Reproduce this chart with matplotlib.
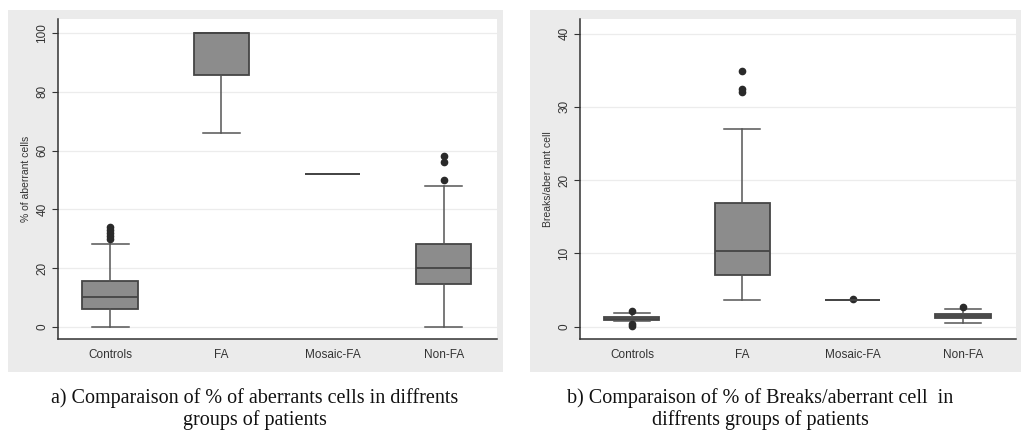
import matplotlib
matplotlib.use("Agg")
import matplotlib.pyplot as plt
from matplotlib.patches import Rectangle

plt.rcParams["font.family"] = ["Liberation Sans", "DejaVu Sans"]

groups = ["Controls", "FA", "Mosaic-FA", "Non-FA"]

# panel a: % of aberrant cells
a_whislo = [0, 66, 52, 0]
a_q1 = [6, 85.6, 52, 14.5]
a_med = [10.2, 100, 52, 19.9]
a_q3 = [15.6, 100, 52, 28.1]
a_whishi = [28.2, 100, 52, 48]
a_fliers = [[30, 31, 32, 33, 34], [], [], [50, 56.2, 58.3]]

# panel b: breaks / aberrant cell
b_whislo = [0.8, 3.7, 3.7, 0.55]
b_q1 = [0.95, 7.0, 3.7, 1.15]
b_med = [1.1, 10.4, 3.7, 1.4]
b_q3 = [1.35, 16.9, 3.7, 1.75]
b_whishi = [1.9, 27.0, 3.7, 2.4]
b_fliers = [[2.2, 0.3, 0.05], [34.9, 32.4, 32.1], [3.75], [2.75]]

captions = ["a) Comparaison of % of aberrants cells in diffrents\ngroups of patients",
            "b) Comparaison of % of Breaks/aberrant cell  in\ndiffrents groups of patients"]

W, H = 1022, 440
fig = plt.figure(figsize=(W / 100, H / 100), dpi=100)

# grey graph regions
for x0, x1 in [(8, 503), (530, 1021)]:
    fig.patches.append(Rectangle((x0 / W, 1 - 372 / H), (x1 - x0) / W, (372 - 10) / H,
                                 transform=fig.transFigure, facecolor="#ebebeb",
                                 edgecolor="none", zorder=-5))


def panel(rect, whislo, q1, med, q3, whishi, fliers, ylim, yticks, ylabel):
    l, r, t, b = rect
    ax = fig.add_axes([l / W, 1 - b / H, (r - l) / W, (b - t) / H])
    ax.set_facecolor("white")
    stats = []
    for i in range(len(groups)):
        stats.append(dict(whislo=whislo[i], q1=q1[i], med=med[i], q3=q3[i],
                          whishi=whishi[i], fliers=fliers[i], label=groups[i]))
    ax.bxp(stats, positions=range(1, 5), widths=0.5, capwidths=0.33,
           patch_artist=True, showfliers=True,
           boxprops=dict(facecolor="#8c8c8c", edgecolor="#454545", linewidth=1.3),
           medianprops=dict(color="#454545", linewidth=1.3),
           whiskerprops=dict(color="#555555", linewidth=1.1),
           capprops=dict(color="#555555", linewidth=1.1),
           flierprops=dict(marker="o", markerfacecolor="#2a2a2a",
                           markeredgecolor="#2a2a2a", markersize=4.5))
    ax.set_xlim(0.53, 4.48)
    ax.set_ylim(*ylim)
    ax.set_yticks(yticks)
    ax.set_yticklabels([str(v) for v in yticks], rotation=90, va="center",
                       fontsize=8.5, color="#333333")
    ax.tick_params(axis="y", length=4, color="#333333", pad=3)
    ax.tick_params(axis="x", length=0, labelsize=8.5, labelcolor="#333333", pad=7)
    ax.grid(axis="y", color="#ececec", linewidth=0.9)
    ax.set_axisbelow(True)
    for s in ["top", "right"]:
        ax.spines[s].set_visible(False)
    for s in ["left", "bottom"]:
        ax.spines[s].set_color("#333333")
        ax.spines[s].set_linewidth(1.1)
    ax.set_ylabel(ylabel, fontsize=7.5, color="#333333", labelpad=4)
    return ax


panel((58, 497, 19, 339), a_whislo, a_q1, a_med, a_q3, a_whishi, a_fliers,
      (-4.1, 104.8), [0, 20, 40, 60, 80, 100], "% of aberrant cells")
panel((580, 1016, 19, 339), b_whislo, b_q1, b_med, b_q3, b_whishi, b_fliers,
      (-1.68, 42), [0, 10, 20, 30, 40], "Breaks/aber rant cell")

for cx, txt in zip([255, 760], captions):
    fig.text(cx / W, 1 - 409 / H, txt, ha="center", va="center", fontsize=14.5,
             family="Liberation Serif", color="#111111", linespacing=1.2)

fig.savefig("out.png", dpi=100, facecolor="white")
